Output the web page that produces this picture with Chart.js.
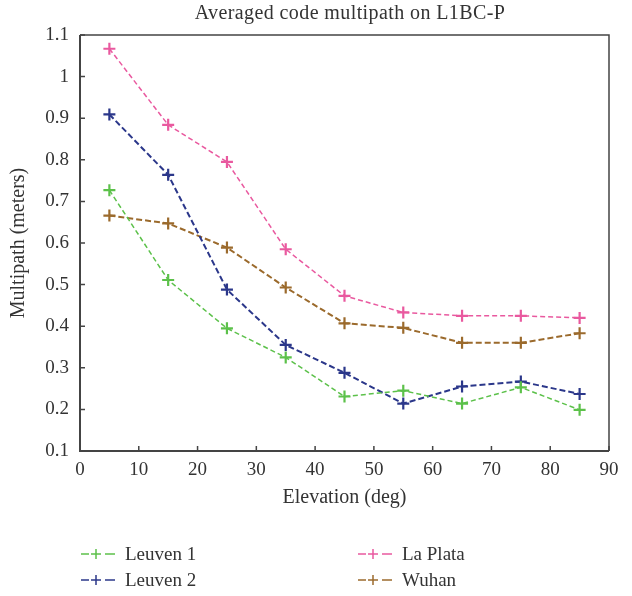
<!DOCTYPE html>
<html>
<head>
<meta charset="utf-8">
<script src="https://cdn.jsdelivr.net/npm/chart.js@4/dist/chart.umd.min.js"></script>
<style>
  html, body { margin: 0; padding: 0; background: #fff; }
  #wrap { position: relative; width: 632px; height: 596px; }
  #chart { position: absolute; left: 0; top: 0; }
  #title { position: absolute; top: 1px; left: 350px; transform: translateX(-50%); white-space: nowrap;
           font-family: "Liberation Serif", "DejaVu Serif", serif; font-size: 20px; color: #333; letter-spacing: 0.4px; }
  .legend { position: absolute; font-family: "Liberation Serif", "DejaVu Serif", serif; font-size: 19px; color: #333; }
  .legend .item { position: absolute; white-space: nowrap; display: flex; align-items: center; }
  .legend svg { margin-right: 9px; }
</style>
</head>
<body>
<div id="wrap">
  <canvas id="chart" width="632" height="596"></canvas>
  <div id="title">Averaged code multipath on L1BC-P</div>
  <div class="legend" id="legend"></div>
</div>
<script>
// Elevation bins (deg) and averaged multipath per station (m)
const elevations = [5, 15, 25, 35, 45, 55, 65, 75, 85];
const leuven1 = [0.727, 0.511, 0.395, 0.325, 0.231, 0.245, 0.214, 0.253, 0.199];
const leuven2 = [0.909, 0.764, 0.488, 0.355, 0.288, 0.214, 0.255, 0.267, 0.237];
const laPlata = [1.067, 0.884, 0.795, 0.585, 0.473, 0.433, 0.425, 0.425, 0.42];
const wuhan = [0.666, 0.647, 0.589, 0.493, 0.407, 0.396, 0.36, 0.36, 0.383];

const xTicks = [0, 10, 20, 30, 40, 50, 60, 70, 80, 90];
const yTicks = [0.1, 0.2, 0.3, 0.4, 0.5, 0.6, 0.7, 0.8, 0.9, 1, 1.1];
const yTickLabels = ['0.1', '0.2', '0.3', '0.4', '0.5', '0.6', '0.7', '0.8', '0.9', '1', '1.1'];

const series = [
  { label: 'Leuven 1', values: leuven1, color: '#5cc14a', width: 1.5, dash: [5, 3] },
  { label: 'Leuven 2', values: leuven2, color: '#2b378a', width: 2, dash: [6, 3] },
  { label: 'La Plata', values: laPlata, color: '#e9599f', width: 1.5, dash: [5, 3] },
  { label: 'Wuhan', values: wuhan, color: '#9b6a2c', width: 2, dash: [6, 3] }
];

const serif = '"Liberation Serif", "DejaVu Serif", serif';
const axisColor = '#444';

// box around the plot with ticks pointing inward on the left and bottom axes
const frame = {
  id: 'frame',
  afterDraw(chart) {
    const { ctx, chartArea: a, scales } = chart;
    ctx.save();
    ctx.strokeStyle = axisColor;
    ctx.lineWidth = 1.5;
    ctx.beginPath();
    ctx.moveTo(a.left, a.top);
    ctx.lineTo(a.right, a.top);
    ctx.lineTo(a.right, a.bottom);
    ctx.stroke();
    ctx.lineWidth = 2;
    ctx.beginPath();
    ctx.moveTo(a.left, a.top);
    ctx.lineTo(a.left, a.bottom);
    ctx.lineTo(a.right, a.bottom);
    ctx.stroke();
    ctx.lineWidth = 1.5;
    ctx.beginPath();
    xTicks.forEach(v => {
      const x = scales.x.getPixelForValue(v);
      ctx.moveTo(x, a.bottom);
      ctx.lineTo(x, a.bottom - 5);
    });
    yTicks.forEach(v => {
      const y = scales.y.getPixelForValue(v);
      ctx.moveTo(a.left, y);
      ctx.lineTo(a.left + 5, y);
    });
    ctx.stroke();
    ctx.restore();
  }
};

new Chart(document.getElementById('chart'), {
  type: 'line',
  data: {
    datasets: series.map(s => ({
      label: s.label,
      data: elevations.map((e, i) => ({ x: e, y: s.values[i] })),
      borderColor: s.color,
      backgroundColor: s.color,
      borderWidth: s.width,
      borderDash: s.dash,
      pointStyle: 'cross',
      pointRadius: 6,
      pointBorderWidth: 2.2,
      pointBorderColor: s.color,
      tension: 0,
      fill: false
    }))
  },
  options: {
    responsive: false,
    animation: false,
    layout: { padding: { left: 0, right: 23, top: 35, bottom: 81 } },
    plugins: {
      legend: { display: false },
      tooltip: { enabled: false },
      title: { display: false }
    },
    scales: {
      x: {
        type: 'linear',
        min: 0,
        max: 90,
        afterBuildTicks: s => { s.ticks = xTicks.map(v => ({ value: v })); },
        afterFit: s => { s.height = 64; },
        grid: { display: false, drawTicks: false },
        border: { display: false },
        ticks: {
          color: '#333',
          padding: 8,
          maxRotation: 0,
          font: { family: serif, size: 19 }
        },
        title: {
          display: true,
          text: 'Elevation (deg)',
          color: '#333',
          font: { family: serif, size: 20 },
          padding: { top: 0, bottom: 5 }
        }
      },
      y: {
        type: 'linear',
        min: 0.1,
        max: 1.1,
        afterBuildTicks: s => { s.ticks = yTicks.map(v => ({ value: v })); },
        afterFit: s => { s.width = 80; },
        grid: { display: false, drawTicks: false },
        border: { display: false },
        ticks: {
          color: '#333',
          padding: 11,
          font: { family: serif, size: 19 },
          callback: (v, i) => yTickLabels[i]
        },
        title: {
          display: true,
          text: 'Multipath (meters)',
          color: '#333',
          font: { family: serif, size: 20 },
          padding: { top: 7, bottom: 0 }
        }
      }
    }
  },
  plugins: [frame]
});

// legend in two columns below the plot
const legendPos = [
  { left: 80, top: 543 },
  { left: 80, top: 569 },
  { left: 357, top: 543 },
  { left: 357, top: 569 }
];
const legendEl = document.getElementById('legend');
series.forEach((s, i) => {
  const item = document.createElement('div');
  item.className = 'item';
  item.style.left = legendPos[i].left + 'px';
  item.style.top = legendPos[i].top + 'px';
  item.innerHTML =
    '<svg width="36" height="14">' +
    '<line x1="1" y1="7" x2="9" y2="7" stroke="' + s.color + '" stroke-width="1.5"/>' +
    '<line x1="11" y1="7" x2="21" y2="7" stroke="' + s.color + '" stroke-width="1.5"/>' +
    '<line x1="16" y1="2" x2="16" y2="12" stroke="' + s.color + '" stroke-width="1.5"/>' +
    '<line x1="25" y1="7" x2="35" y2="7" stroke="' + s.color + '" stroke-width="1.5"/>' +
    '</svg><span>' + s.label + '</span>';
  legendEl.appendChild(item);
});
</script>
</body>
</html>
